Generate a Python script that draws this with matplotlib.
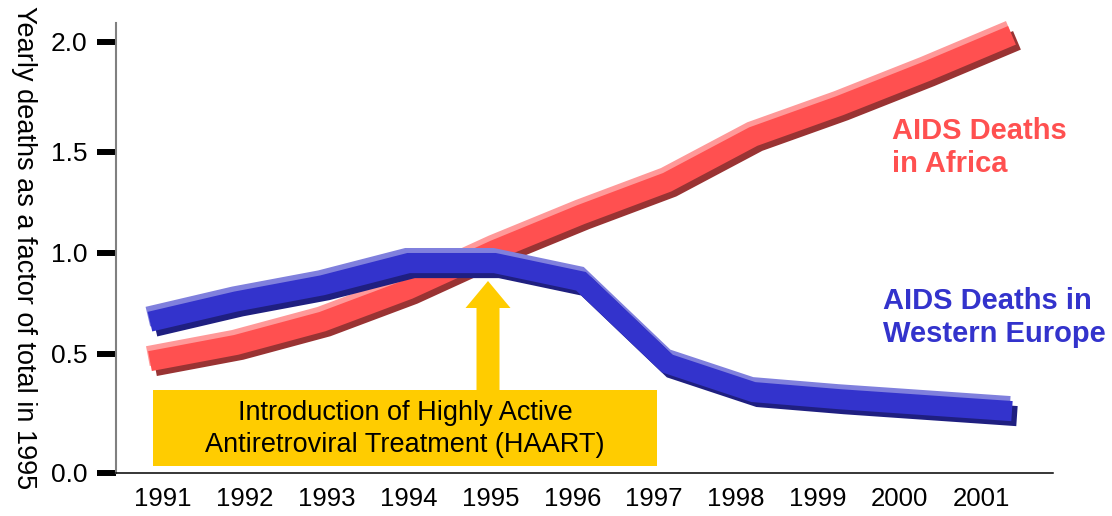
import numpy as np
import matplotlib
matplotlib.use("Agg")
import matplotlib.pyplot as plt
import matplotlib.patheffects as pe
from matplotlib.patches import Rectangle, FancyArrow
from matplotlib.transforms import Affine2D

years = [1991, 1992, 1993, 1994, 1995, 1996, 1997, 1998, 1999, 2000, 2001]
year_labels = [str(y) for y in years]
africa = [0.47, 0.545, 0.66, 0.82, 1.015, 1.19, 1.35, 1.57, 1.71, 1.865, 2.03]
europe = [0.66, 0.76, 0.84, 0.95, 0.95, 0.86, 0.46, 0.34, 0.31, 0.285, 0.26]
y_ticks = [0.0, 0.5, 1.0, 1.5, 2.0]
y_tick_labels = ["0.0", "0.5", "1.0", "1.5", "2.0"]
# the printed axis is not evenly spaced, heights of each tick above zero
y_tick_heights = [0, 119, 220, 321, 431]

plt.rcParams["font.family"] = "Liberation Sans"

W, H = 1112, 516
fig = plt.figure(figsize=(W / 100, H / 100), dpi=100)
pix = Affine2D().scale(1, -1).translate(0, H)  # image pixels, y down

ax = fig.add_axes([116 / W, 43 / H, 937 / W, 450 / H])

ext_v = [-1.0] + y_ticks + [3.0]
ext_h = [-238.0] + y_tick_heights + [651.0]


def fwd(v):
    return np.interp(v, ext_v, ext_h)


def inv(h):
    return np.interp(h, ext_h, ext_v)


ax.set_yscale("function", functions=(fwd, inv))


def shaded_line(values, main, light, dark, z):
    ax.plot(years, values, color=main, lw=14.5, solid_capstyle="butt",
            solid_joinstyle="miter", zorder=z, clip_on=False,
            path_effects=[
                pe.Stroke(offset=(-1.5, 3.6), linewidth=14.5, foreground=light),
                pe.Stroke(offset=(3.6, -3.6), linewidth=14.5, foreground=dark),
                pe.Normal(),
            ])


shaded_line(africa, "#FF5050", "#FF9999", "#993333", 3)
shaded_line(europe, "#3333CC", "#8080DD", "#1F1F80", 4)

ax.set_xlim(1990.606, 2001.476)
ax.set_ylim(0, 2.086)
ax.set_xticks([])
ax.set_yticks(y_ticks)
ax.set_yticklabels(y_tick_labels)
ax.tick_params(axis="y", direction="out", length=13.5, width=4.3,
               color="black", pad=7, labelsize=19)
ax.spines["top"].set_visible(False)
ax.spines["right"].set_visible(False)
ax.spines["left"].set_color("#808080")
ax.spines["left"].set_linewidth(1.5)
ax.spines["bottom"].set_color("black")
ax.spines["bottom"].set_linewidth(1.1)

# year labels sit on their own, slightly tighter spacing
lab = ax.twiny()
lab.set_xlim(1990.43, 2001.87)
lab.set_xticks(years)
lab.set_xticklabels(year_labels)
lab.xaxis.set_ticks_position("bottom")
lab.tick_params(axis="x", length=0, pad=10, labelsize=18.5)
for s in lab.spines.values():
    s.set_visible(False)

fig.text(24, 248, "Yearly deaths as a factor of total in 1995", transform=pix,
         rotation=270, ha="center", va="center", fontsize=19.5)

fig.text(892, 117, "AIDS Deaths\nin Africa", transform=pix, color="#FF5050",
         fontweight="bold", fontsize=21, ha="left", va="top", linespacing=1.25)
fig.text(883, 287, "AIDS Deaths in\nWestern Europe", transform=pix,
         color="#3333CC", fontweight="bold", fontsize=21, ha="left", va="top",
         linespacing=1.25)

# HAART callout
fig.add_artist(Rectangle((153, 466), 504, -76, transform=pix,
                         facecolor="#FFCC00", edgecolor="none", zorder=1))
fig.add_artist(FancyArrow(488, 390, 0, -109, width=23, head_width=45,
                          head_length=27, length_includes_head=True,
                          transform=pix, facecolor="#FFCC00",
                          edgecolor="none", zorder=1))
fig.text(405, 429, "Introduction of Highly Active\nAntiretroviral Treatment (HAART)",
         transform=pix, ha="center", va="center", fontsize=19.5,
         linespacing=1.28, zorder=2)

fig.savefig("out.png", dpi=100)
